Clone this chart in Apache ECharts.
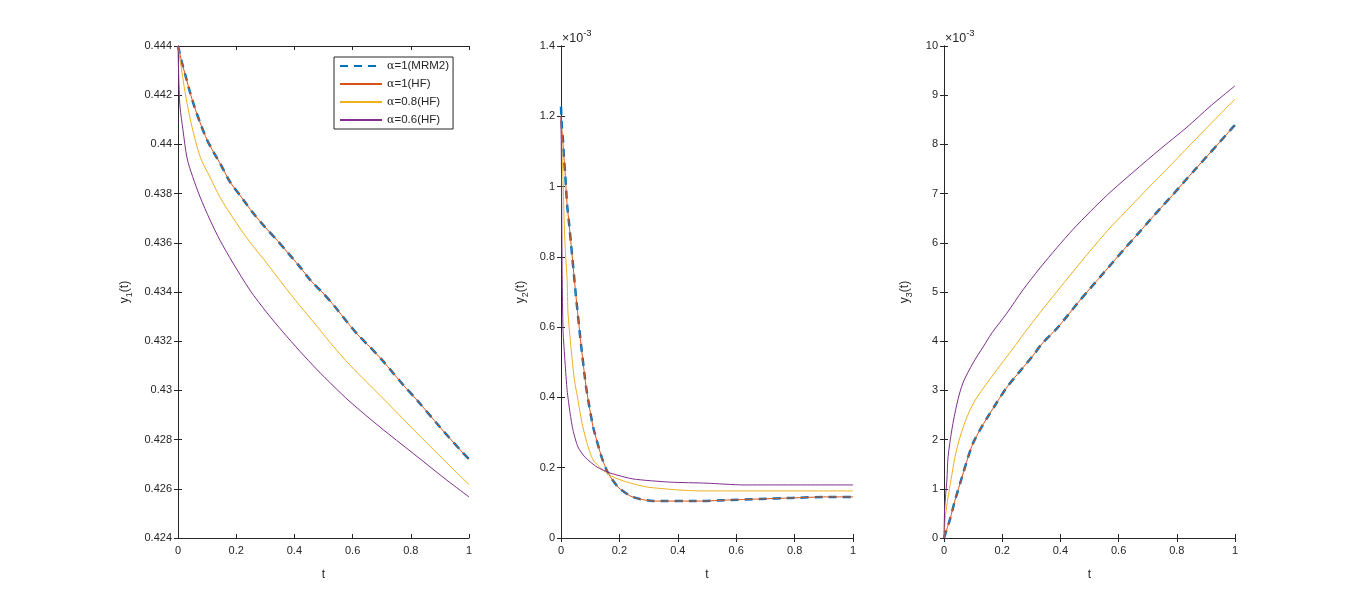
<!DOCTYPE html>
<html>
<head>
<meta charset="utf-8">
<script src="https://cdn.jsdelivr.net/npm/echarts@6/dist/echarts.min.js"></script>
<style>
html,body{margin:0;padding:0;background:#fff;}
#c{width:1366px;height:604px;}
</style>
</head>
<body>
<div id="c"></div>
<script>
// ---------- data ----------
const seriesNames = ['α=1(MRM2)', 'α=1(HF)', 'α=0.8(HF)', 'α=0.6(HF)'];
const xTicks = [0, 0.2, 0.4, 0.6, 0.8, 1];

// Panel 1 : y1(t)
const t1_a1 = [0, 0.014, 0.027, 0.041, 0.058, 0.079, 0.10, 0.12, 0.144, 0.179, 0.22, 0.258, 0.299, 0.34, 0.378, 0.419, 0.46, 0.498, 0.54, 0.581, 0.619, 0.66, 0.701, 0.739, 0.78, 0.821, 0.9, 0.979, 1.0];
const y1_mrm = [0.4440, 0.44331, 0.44274, 0.44213, 0.44148, 0.44079, 0.44018, 0.43973, 0.43924, 0.43847, 0.43782, 0.43721, 0.43664, 0.43611, 0.43559, 0.43502, 0.43441, 0.43396, 0.43339, 0.43278, 0.43225, 0.43176, 0.43124, 0.43071, 0.43014, 0.42961, 0.42851, 0.42746, 0.42721];
const y1_hf1 = [0.4440, 0.44331, 0.44274, 0.44213, 0.44148, 0.44079, 0.44018, 0.43973, 0.43924, 0.43847, 0.43782, 0.43721, 0.43664, 0.43611, 0.43559, 0.43502, 0.43441, 0.43396, 0.43339, 0.43278, 0.43225, 0.43176, 0.43124, 0.43071, 0.43014, 0.42961, 0.42851, 0.42746, 0.42721];
const t1_a08 = [0, 0.003, 0.007, 0.014, 0.027, 0.045, 0.076, 0.11, 0.144, 0.189, 0.247, 0.306, 0.361, 0.419, 0.478, 0.533, 0.591, 0.649, 0.694, 0.773, 0.808, 0.924, 1.0];
const y1_a08 = [0.4440, 0.4437, 0.44343, 0.4429, 0.44193, 0.44087, 0.4395, 0.43867, 0.43786, 0.43701, 0.43603, 0.43516, 0.4343, 0.43344, 0.4326, 0.4318, 0.43103, 0.43033, 0.4298, 0.42885, 0.42842, 0.42705, 0.42617];
const t1_a06 = [0, 0.002, 0.004, 0.007, 0.017, 0.031, 0.05, 0.076, 0.11, 0.144, 0.189, 0.247, 0.306, 0.361, 0.419, 0.478, 0.533, 0.591, 0.694, 0.808, 0.924, 1.0];
const y1_a06 = [0.4440, 0.4430, 0.4422, 0.44152, 0.44059, 0.43945, 0.4387, 0.43786, 0.43693, 0.43611, 0.43518, 0.43408, 0.43315, 0.43237, 0.43159, 0.43084, 0.43019, 0.42954, 0.42851, 0.42744, 0.42635, 0.42567];

// Panel 2 : y2(t), values in units of 1e-3
const t2_a1 = [0, 0.003, 0.007, 0.01, 0.014, 0.017, 0.021, 0.027, 0.034, 0.051, 0.068, 0.082, 0.089, 0.11, 0.14, 0.161, 0.195, 0.236, 0.27, 0.315, 0.48, 0.57, 0.68, 0.79, 0.91, 1.0];
const y2_mrm = [1.227, 1.17, 1.13, 1.084, 1.04, 1.0, 0.948, 0.9, 0.84, 0.69, 0.555, 0.455, 0.413, 0.316, 0.228, 0.185, 0.145, 0.12, 0.111, 0.105, 0.105, 0.108, 0.111, 0.114, 0.117, 0.117];
const y2_hf1 = [1.19, 1.16, 1.12, 1.084, 1.04, 1.0, 0.948, 0.9, 0.84, 0.69, 0.555, 0.455, 0.413, 0.316, 0.228, 0.185, 0.145, 0.12, 0.111, 0.105, 0.105, 0.108, 0.111, 0.114, 0.117, 0.117];
const t2_a08 = [0, 0.003, 0.007, 0.01, 0.014, 0.021, 0.024, 0.034, 0.045, 0.058, 0.072, 0.089, 0.11, 0.144, 0.178, 0.226, 0.295, 0.397, 0.476, 1.0];
const y2_a08 = [1.2, 1.1, 1.02, 0.925, 0.83, 0.734, 0.64, 0.544, 0.455, 0.393, 0.327, 0.27, 0.222, 0.193, 0.174, 0.159, 0.145, 0.137, 0.134, 0.134];
const t2_a06 = [0, 0.002, 0.004, 0.007, 0.014, 0.021, 0.031, 0.041, 0.058, 0.082, 0.123, 0.168, 0.247, 0.373, 0.5, 0.623, 1.0];
const y2_a06 = [1.2, 1.0, 0.75, 0.59, 0.498, 0.42, 0.356, 0.307, 0.259, 0.23, 0.202, 0.185, 0.168, 0.159, 0.156, 0.151, 0.151];

// Panel 3 : y3(t), values in units of 1e-3
const t3_a1 = [0, 0.021, 0.038, 0.062, 0.082, 0.1, 0.124, 0.148, 0.182, 0.218, 0.261, 0.302, 0.34, 0.385, 0.426, 0.46, 0.502, 0.546, 0.581, 0.622, 0.663, 0.7, 0.742, 0.784, 0.821, 0.863, 0.904, 0.942, 0.99, 1.0];
const y3_mrm = [0, 0.39, 0.77, 1.24, 1.63, 1.93, 2.2, 2.44, 2.76, 3.08, 3.39, 3.68, 3.97, 4.24, 4.53, 4.78, 5.07, 5.37, 5.61, 5.89, 6.16, 6.41, 6.69, 6.96, 7.21, 7.49, 7.76, 8.01, 8.33, 8.39];
const y3_hf1 = [0, 0.39, 0.77, 1.24, 1.63, 1.93, 2.2, 2.44, 2.76, 3.08, 3.39, 3.68, 3.97, 4.24, 4.53, 4.78, 5.07, 5.37, 5.61, 5.89, 6.16, 6.41, 6.69, 6.96, 7.21, 7.49, 7.76, 8.01, 8.33, 8.39];
const t3_a08 = [0, 0.005, 0.014, 0.024, 0.038, 0.055, 0.079, 0.107, 0.148, 0.192, 0.237, 0.278, 0.33, 0.388, 0.443, 0.5, 0.57, 0.646, 0.698, 0.784, 0.869, 0.948, 1.0];
const y3_a08 = [0, 0.45, 0.83, 1.18, 1.65, 2.05, 2.46, 2.8, 3.15, 3.5, 3.85, 4.18, 4.58, 5.01, 5.41, 5.82, 6.3, 6.77, 7.09, 7.61, 8.13, 8.61, 8.92];
const t3_a06 = [0, 0.002, 0.006, 0.01, 0.014, 0.027, 0.045, 0.065, 0.1, 0.134, 0.165, 0.216, 0.271, 0.33, 0.388, 0.443, 0.502, 0.536, 0.581, 0.649, 0.742, 0.835, 0.914, 1.0];
const y3_a06 = [0, 0.55, 0.9, 1.18, 1.65, 2.2, 2.74, 3.15, 3.56, 3.88, 4.17, 4.57, 5.04, 5.49, 5.9, 6.27, 6.63, 6.83, 7.08, 7.43, 7.9, 8.35, 8.77, 9.19];

const yAxes = [
  {min: 0.424, max: 0.444, interval: 0.002, label: '1', exp: false},
  {min: 0, max: 1.4, interval: 0.2, label: '2', exp: true},
  {min: 0, max: 10, interval: 1, label: '3', exp: true}
];
// ----------------------------------------------------

const C = {blue: '#0072BD', red: '#D95319', yel: '#EDB120', pur: '#7E2F8E', ax: '#262626'};
const FONT = 'Liberation Sans';
const pairs = (t, y) => t.map((v, i) => [v, y[i]]);

const grids = [
  {left: 178, width: 291, top: 46, height: 492},
  {left: 561, width: 292, top: 46, height: 492},
  {left: 944, width: 291, top: 46, height: 492}
];
const yNameGap = [44, 31, 30];
const smoothBy = [0.3, 0.2, 0.3];

const xAxis = [], yAxis = [], series = [];
grids.forEach((g, i) => {
  const common = {
    type: 'value', gridIndex: i,
    axisLine: {show: true, lineStyle: {color: C.ax, width: 1}},
    axisTick: {show: true, inside: true, length: 4, lineStyle: {color: C.ax}},
    splitLine: {show: false}
  };
  xAxis.push(Object.assign({}, common, {
    position: 'bottom', min: 0, max: 1, interval: 0.2,
    axisLabel: {color: C.ax, fontFamily: FONT, fontSize: 11, margin: 7},
    name: 't', nameLocation: 'middle', nameGap: 31,
    nameTextStyle: {color: C.ax, fontFamily: FONT, fontSize: 12}
  }));
  xAxis.push(Object.assign({}, common, {
    position: 'top', min: 0, max: 1, interval: 0.2, axisLabel: {show: false}
  }));
  const ya = yAxes[i];
  yAxis.push(Object.assign({}, common, {
    position: 'left', min: ya.min, max: ya.max, interval: ya.interval,
    axisLabel: {color: C.ax, fontFamily: FONT, fontSize: 11, margin: 6},
    name: '{a|y}{b|' + ya.label + '}{a|(t)}', nameLocation: 'middle', nameGap: yNameGap[i], nameRotate: 90,
    nameTextStyle: {
      color: C.ax, fontFamily: FONT,
      rich: {
        a: {fontSize: 12, lineHeight: 18, color: C.ax, fontFamily: FONT, verticalAlign: 'middle'},
        b: {fontSize: 9, lineHeight: 9, color: C.ax, fontFamily: FONT, verticalAlign: 'bottom'}
      }
    }
  }));
  yAxis.push(Object.assign({}, common, {
    position: 'right', min: ya.min, max: ya.max, interval: ya.interval, axisLabel: {show: false}
  }));
});

const panelData = [
  [[t1_a1, y1_mrm], [t1_a1, y1_hf1], [t1_a08, y1_a08], [t1_a06, y1_a06]],
  [[t2_a1, y2_mrm], [t2_a1, y2_hf1], [t2_a08, y2_a08], [t2_a06, y2_a06]],
  [[t3_a1, y3_mrm], [t3_a1, y3_hf1], [t3_a08, y3_a08], [t3_a06, y3_a06]]
];
const styles = [
  {color: C.blue, width: 2.5, type: [8, 6]},
  {color: C.red, width: 1, type: 'solid'},
  {color: C.yel, width: 1, type: 'solid'},
  {color: C.pur, width: 1, type: 'solid'}
];
panelData.forEach((pd, i) => {
  pd.forEach((d, k) => {
    series.push({
      type: 'line', name: seriesNames[k], xAxisIndex: 2 * i, yAxisIndex: 2 * i,
      data: pairs(d[0], d[1]), symbol: 'none', showSymbol: false,
      smooth: smoothBy[i],
      lineStyle: styles[k], itemStyle: {color: styles[k].color}, clip: true, z: 2 + k
    });
  });
});

const option = {
  animation: false,
  backgroundColor: '#fff',
  grid: grids.map(g => Object.assign({containLabel: false}, g)),
  xAxis, yAxis, series,
  legend: {
    data: seriesNames, orient: 'vertical', left: 334, top: 57,
    padding: [3, 4, 3, 5], itemWidth: 42, itemHeight: 12, itemGap: 6,
    backgroundColor: '#fff', borderColor: C.ax, borderWidth: 1, borderRadius: 0,
    selectedMode: false,
    itemStyle: {opacity: 0},
    formatter: n => '{g|α}{n|' + n.slice(1) + '}',
    textStyle: {
      color: C.ax, fontFamily: FONT, fontSize: 11, padding: [0, 4, 0, 0],
      rich: {
        g: {fontFamily: 'DejaVu Serif', fontSize: 11, color: C.ax},
        n: {fontFamily: FONT, fontSize: 11.5, color: C.ax}
      }
    }
  },
  graphic: [1, 2].map(i => ({
    type: 'text', left: grids[i].left + 1, top: 28, silent: true,
    style: {
      text: '{a|×10}{s|-3}', fill: C.ax,
      rich: {
        a: {fontFamily: FONT, fontSize: 12.5, lineHeight: 17, verticalAlign: 'bottom', fill: C.ax},
        s: {fontFamily: FONT, fontSize: 9.5, lineHeight: 11, verticalAlign: 'top', fill: C.ax}
      }
    }
  }))
};

const chart = echarts.init(document.getElementById('c'), null, {renderer: 'canvas'});
chart.setOption(option);
</script>
</body>
</html>
